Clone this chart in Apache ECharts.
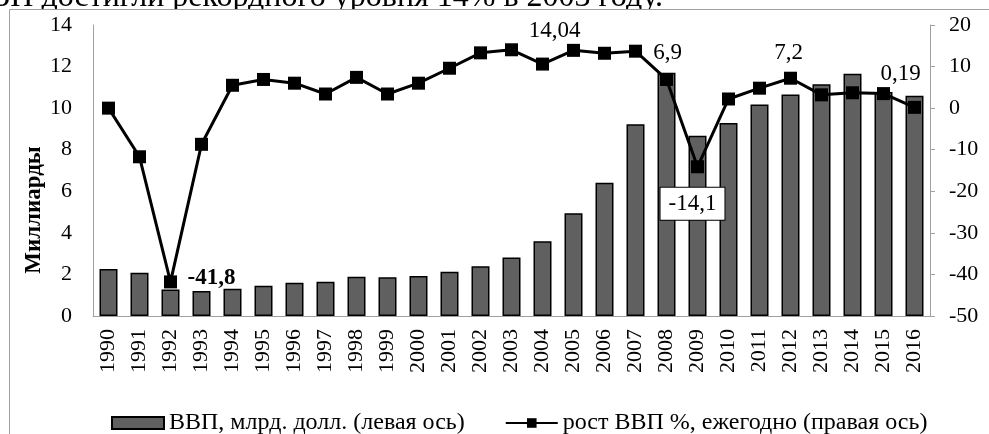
<!DOCTYPE html>
<html><head><meta charset="utf-8">
<script src="https://cdn.jsdelivr.net/npm/echarts@6/dist/echarts.min.js"></script>
<style>html,body{margin:0;padding:0;background:#fff}#c{width:989px;height:434px}</style>
</head><body><div id="c"></div>
<script>
// ---- data ----
const years = ['1990','1991','1992','1993','1994','1995','1996','1997','1998','1999','2000','2001','2002','2003','2004','2005','2006','2007','2008','2009','2010','2011','2012','2013','2014','2015','2016'];
const gdp = [2.26, 2.08, 1.28, 1.2, 1.31, 1.46, 1.6, 1.65, 1.89, 1.86, 1.92, 2.13, 2.39, 2.82, 3.6, 4.94, 6.41, 9.23, 11.7, 8.67, 9.28, 10.18, 10.66, 11.15, 11.65, 10.78, 10.6];
const growth = [0, -11.7, -41.8, -8.7, 5.5, 6.9, 6.0, 3.4, 7.4, 3.4, 6.0, 9.6, 13.3, 14.04, 10.6, 13.9, 13.2, 13.7, 6.9, -14.1, 2.2, 4.8, 7.2, 3.2, 3.7, 3.5, 0.19];
const pointLabels = {'1992':'-41,8','2003':'14,04','2008':'6,9','2009':'-14,1','2012':'7,2','2016':'0,19'};
const seriesNames = ['ВВП, млрд. долл. (левая ось)', 'рост ВВП %, ежегодно (правая ось)'];
const leftAxisName = 'Миллиарды';
const headerText = 'ВВП достигли рекордного уровня 14% в 2003 году.';

// ---- styles ----
const FONT = "'Liberation Serif','Times New Roman',serif";
const FS = 22;
const LFS = 23;
const labelStyles = {
  '1992': {offset:[41,-4], fontWeight:'bold'},
  '2003': {offset:[43,-19]},
  '2008': {offset:[1,-27]},
  '2009': {offset:[-5,37], backgroundColor:'#fff', borderColor:'#000', borderWidth:1, padding:[5,8,4,8]},
  '2012': {offset:[-2,-25]},
  '2016': {offset:[-14,-33]}
};

const lineData = growth.map((v,i)=>{
  const y = years[i];
  if (!(y in pointLabels)) return v;
  return {value:v, label:Object.assign({show:true, position:'inside', formatter:pointLabels[y], color:'#000', fontFamily:FONT, fontSize:LFS}, labelStyles[y])};
});

const chart = echarts.init(document.getElementById('c'), null, {renderer:'canvas'});
chart.setOption({
  animation:false,
  backgroundColor:'#fff',
  textStyle:{fontFamily:FONT, color:'#000'},
  grid:{left:93, right:59, top:25, bottom:118, containLabel:false},
  graphic:[
    {type:'text', z:-2, x:663, y:-2, style:{text:headerText, font:'32px '+FONT, fill:'#000', align:'right', verticalAlign:'middle'}},
    {type:'rect', z:-1, shape:{x:9.5,y:9.5,width:1000,height:500}, style:{fill:'#fff', stroke:'#a0a0a0', lineWidth:1}, silent:true},
    {type:'text', x:34, y:210, rotation:Math.PI/2, style:{text:leftAxisName, font:'bold 23px '+FONT, fill:'#000', align:'center', verticalAlign:'middle'}}
  ],
  legend:{
    left:106, top:406, itemGap:40, itemWidth:52, itemHeight:12,
    textStyle:{fontFamily:FONT, fontSize:24, color:'#000'},
    data:[
      {name:seriesNames[0], icon:'rect'},
      {name:seriesNames[1]}
    ]
  },
  xAxis:{
    type:'category', data:years,
    axisLine:{lineStyle:{color:'#a0a0a0', width:1}},
    axisTick:{show:false},
    axisLabel:{rotate:90, margin:13, fontFamily:FONT, fontSize:FS, color:'#000', interval:0}
  },
  yAxis:[
    {type:'value', min:0, max:14, interval:2, position:'left',
     axisLine:{show:true, lineStyle:{color:'#a0a0a0'}}, axisTick:{show:false}, splitLine:{show:false},
     axisLabel:{margin:21, fontFamily:FONT, fontSize:FS, color:'#000'}},
    {type:'value', min:-50, max:20, interval:10, position:'right',
     axisLine:{show:true, lineStyle:{color:'#a0a0a0'}}, axisTick:{show:true, length:5, inside:false, lineStyle:{color:'#a0a0a0'}}, splitLine:{show:false},
     axisLabel:{margin:19, fontFamily:FONT, fontSize:FS, color:'#000'}}
  ],
  series:[
    {name:seriesNames[0], type:'bar', yAxisIndex:0, data:gdp, barWidth:18,
     itemStyle:{color:'#606060', borderColor:'#000', borderWidth:1.5}, z:2},
    {name:seriesNames[1], type:'line', yAxisIndex:1, data:lineData,
     symbol:'rect', symbolSize:13, lineStyle:{color:'#000', width:3}, itemStyle:{color:'#000'}, z:5}
  ]
});
</script></body></html>
